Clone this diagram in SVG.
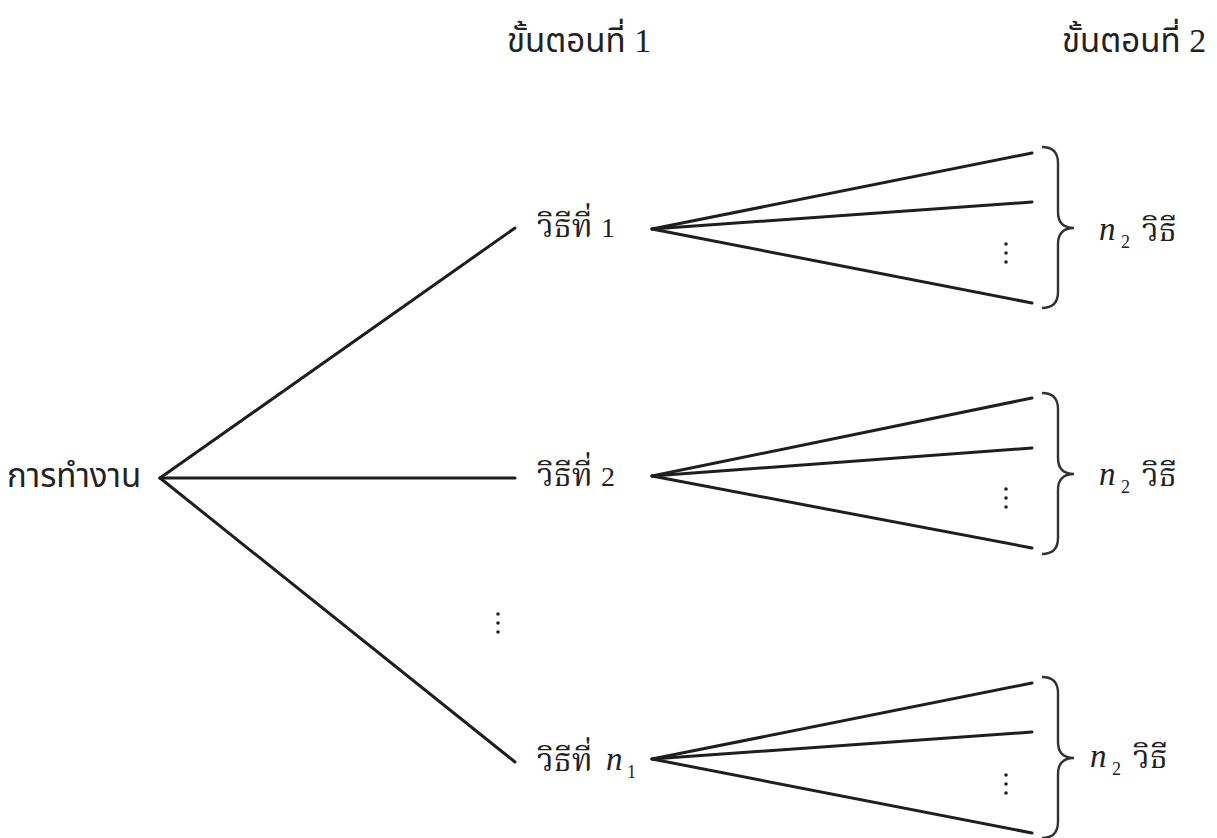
<svg xmlns="http://www.w3.org/2000/svg" width="1217" height="838" viewBox="0 0 1217 838">
<style>
.ln{stroke:#1e1e1e;stroke-width:3;fill:none;stroke-linecap:round}
.br{stroke:#333;stroke-width:2.4;fill:none}
.hd{font-family:"Noto Sans Thai","Noto Sans","DejaVu Sans",sans-serif;font-size:33px;fill:#222}
.th{font-family:"Noto Serif Thai","Noto Sans Thai","Liberation Serif",serif;font-size:32px;fill:#222}
.num{font-family:"Liberation Serif",serif;font-size:34px;fill:#222}
.num2{font-family:"Liberation Serif",serif;font-size:28px;fill:#222}
.it{font-family:"Liberation Serif",serif;font-style:italic;font-size:33px;fill:#222}
.sub{font-family:"Liberation Serif",serif;font-size:18px;fill:#222}
.dot{fill:#222}
</style>
<defs>
<g id="vdots"><circle cx="0" cy="0" r="1.8"/><circle cx="0" cy="9" r="1.8"/><circle cx="0" cy="18" r="1.8"/></g>
<path id="brace" d="M0,0 Q16,0 16,16 L16,65 Q16,81 32,81 Q16,81 16,97 L16,145 Q16,161 0,161"/>
</defs>
<g id="headers">
<text class="hd" x="507" y="52">ขั้นตอนที่ <tspan class="num">1</tspan></text>
<text class="hd" x="1062" y="52">ขั้นตอนที่ <tspan class="num">2</tspan></text>
</g>
<g id="connectors">
<line class="ln" x1="160" y1="478" x2="515" y2="228"/>
<line class="ln" x1="160" y1="478" x2="515" y2="478"/>
<line class="ln" x1="160" y1="478" x2="515" y2="762"/>
<line class="ln" x1="652" y1="229" x2="1032" y2="153"/>
<line class="ln" x1="652" y1="229" x2="1032" y2="202"/>
<line class="ln" x1="652" y1="229" x2="1032" y2="303"/>
<line class="ln" x1="652" y1="476" x2="1032" y2="398"/>
<line class="ln" x1="652" y1="476" x2="1032" y2="448"/>
<line class="ln" x1="652" y1="476" x2="1032" y2="548"/>
<line class="ln" x1="652" y1="759" x2="1032" y2="683"/>
<line class="ln" x1="652" y1="759" x2="1032" y2="732"/>
<line class="ln" x1="652" y1="759" x2="1032" y2="833"/>
</g>
<g id="root"><text class="hd" x="7" y="487">การทำงาน</text></g>
<g id="way1"><text class="th" x="537" y="237">วิธีที่ <tspan class="num2">1</tspan></text></g>
<g id="way2"><text class="th" x="537" y="486">วิธีที่ <tspan class="num2">2</tspan></text></g>
<g id="wayn"><text class="th" x="537" y="771">วิธีที่</text><text class="it" x="606" y="770">n</text><text class="sub" x="627" y="778">1</text></g>
<g id="dots-mid" class="dot"><use href="#vdots" x="498" y="614"/></g>
<g id="dots1" class="dot"><use href="#vdots" x="1006" y="244"/></g>
<g id="dots2" class="dot"><use href="#vdots" x="1006" y="489"/></g>
<g id="dots3" class="dot"><use href="#vdots" x="1006" y="775"/></g>
<g id="brace1"><use href="#brace" class="br" x="1042" y="147"/><text class="it" x="1099" y="240">n</text><text class="sub" x="1121" y="248">2</text><text class="th" x="1142" y="241">วิธี</text></g>
<g id="brace2"><use href="#brace" class="br" x="1042" y="393"/><text class="it" x="1099" y="485">n</text><text class="sub" x="1121" y="493">2</text><text class="th" x="1142" y="486">วิธี</text></g>
<g id="brace3"><use href="#brace" class="br" x="1042" y="677"/><text class="it" x="1090" y="767">n</text><text class="sub" x="1112" y="775">2</text><text class="th" x="1133" y="768">วิธี</text></g>
</svg>
